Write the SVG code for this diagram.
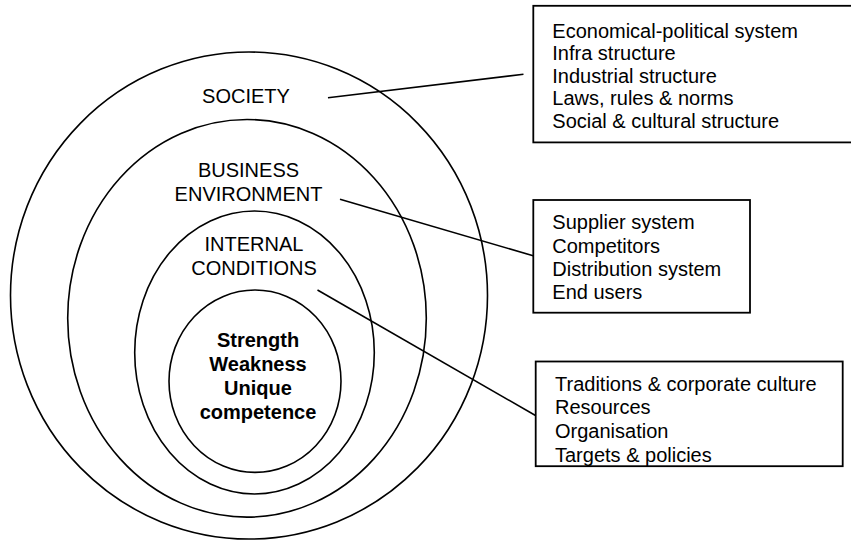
<svg xmlns="http://www.w3.org/2000/svg" width="851" height="540" viewBox="0 0 851 540">
<style>
.ring{fill:none;stroke:#000;stroke-width:1.6}
.box{fill:#fff;stroke:#000;stroke-width:1.8}
.conn{stroke:#000;stroke-width:1.6;fill:none}
text{font-family:"Liberation Sans",Arial,sans-serif;font-size:20px;fill:#000}
.c{text-anchor:middle}
.b{font-weight:bold}
</style>
<rect width="851" height="540" fill="#fff"/>
<g id="society">
<ellipse class="ring" cx="249" cy="295.5" rx="238.5" ry="243.5"/>
<text class="c" x="246" y="103">SOCIETY</text>
</g>
<g id="business-environment">
<ellipse class="ring" cx="247" cy="318.3" rx="179.3" ry="198.8"/>
<text class="c" x="248.5" y="177">BUSINESS</text>
<text class="c" x="248.5" y="201">ENVIRONMENT</text>
</g>
<g id="internal-conditions">
<ellipse class="ring" cx="254.5" cy="352.5" rx="119.8" ry="141.5"/>
<text class="c" x="254" y="251">INTERNAL</text>
<text class="c" x="254" y="275">CONDITIONS</text>
</g>
<g id="core">
<ellipse class="ring" cx="255" cy="381.2" rx="86" ry="91.2"/>
<text class="c b" x="258" y="347">Strength</text>
<text class="c b" x="258" y="371">Weakness</text>
<text class="c b" x="258" y="395">Unique</text>
<text class="c b" x="258" y="418.5">competence</text>
</g>
<g id="connectors">
<line class="conn" x1="328" y1="97.7" x2="523.5" y2="74.3"/>
<line class="conn" x1="340" y1="199.3" x2="534" y2="256"/>
<line class="conn" x1="317.5" y1="290" x2="535.5" y2="415.5"/>
</g>
<g id="society-box">
<rect class="box" x="533.3" y="5.8" width="322" height="136.6"/>
<text x="552.3" y="37.7">Economical-political system</text>
<text x="552.3" y="60.2">Infra structure</text>
<text x="552.3" y="82.7">Industrial structure</text>
<text x="552.3" y="105.2">Laws, rules &amp; norms</text>
<text x="552.3" y="127.7">Social &amp; cultural structure</text>
</g>
<g id="business-box">
<rect class="box" x="533.3" y="200" width="216.7" height="112.7"/>
<text x="552.3" y="229">Supplier system</text>
<text x="552.3" y="252.5">Competitors</text>
<text x="552.3" y="276">Distribution system</text>
<text x="552.3" y="299.3">End users</text>
</g>
<g id="internal-box">
<rect class="box" x="535.7" y="361.5" width="307" height="104.7"/>
<text x="555" y="390.7">Traditions &amp; corporate culture</text>
<text x="555" y="414">Resources</text>
<text x="555" y="438">Organisation</text>
<text x="555" y="461.7">Targets &amp; policies</text>
</g>
</svg>
